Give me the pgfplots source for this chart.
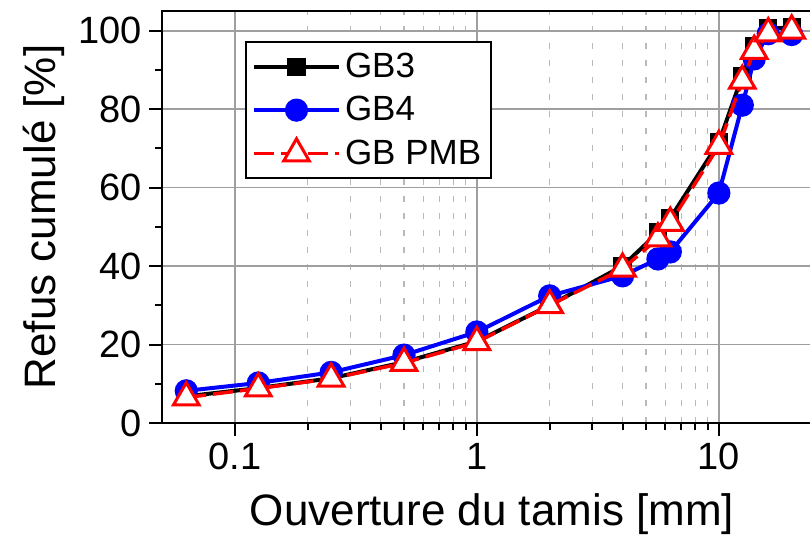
\documentclass[border=0pt]{standalone}
\usepackage{pgfplots}
\pgfplotsset{compat=1.18}
\usepackage{pgfplotstable}
\usepackage{fontspec}
\setmainfont{Liberation Sans}

% Cumulative grading curves (sieve opening in mm, cumulative % )
\pgfplotstableread{
x      gb3    gb4    pmb
0.063  6.8    8.2    6.5
0.125  8.9    10.2   8.8
0.25   11.4   12.9   11.3
0.5    15.5   17.3   15.3
1      20.8   23.2   20.6
2      30.0   32.4   30.0
4      40.0   37.5   39.3
5.6    48.5   41.8   47.0
6.3    52.2   43.6   51.0
10     71.5   58.6   70.6
12.5   88.5   81.0   87.2
14     96.0   92.8   94.8
16     100.5  99.2   99.3
20     100.8  99.0   100.0
}\grading

\begin{document}
\begin{tikzpicture}
\useasboundingbox (-81pt,-58.5pt) rectangle (324pt,211.5pt);
\begin{axis}[
  at={(0,0)}, anchor=south west,
  scale only axis, width=330pt, height=206pt,
  xmode=log, xmin=0.05, xmax=26.68, ymin=0, ymax=105,
  xtick={0.1,1,10}, xticklabels={0.1,1,10},
  ytick={0,20,40,60,80,100}, minor y tick num=1,
  tick align=outside, tick pos=left,
  major tick length=6.5pt, minor tick length=3.5pt,
  every tick/.style={black, line width=1pt},
  axis line style={line width=1.2pt},
  xmajorgrids, xminorgrids, ymajorgrids,
  major grid style={gray!75, line width=0.9pt, solid},
  minor grid style={gray!55, line width=0.6pt, dash pattern=on 3pt off 5.5pt},
  /pgf/number format/assume math mode=true,
  tick label style={font=\fontsize{19}{22}\selectfont},
  label style={font=\fontsize{22}{26}\selectfont},
  xlabel style={yshift=-5pt},
  xlabel={Ouverture du tamis [mm]},
  ylabel={Refus cumulé [\%]},
  clip mode=individual,
  legend cell align=left,
  legend style={at={(0.1258,0.9272)}, anchor=north west, draw=black,
    line width=1pt, font=\fontsize{17.5}{20}\selectfont,
    inner xsep=3pt, inner ysep=3.5pt, row sep=4pt},
  legend image code/.code={
    \draw[mark repeat=2, mark phase=2] plot coordinates {(0pt,0pt) (21.25pt,0pt) (42.5pt,0pt)};
  },
]
\addplot[black, line width=2pt, mark=square*, mark size=3.6pt]
  table[x=x, y=gb3]{\grading};
\addlegendentry{GB3}
\addplot[blue, line width=2pt, mark=*, mark size=4.8pt]
  table[x=x, y=gb4]{\grading};
\addlegendentry{GB4}
\addplot[red, line width=1.75pt, dash pattern=on 10pt off 3.5pt,
  mark=triangle*, mark size=7.4pt,
  mark options={solid, fill=white, line width=1.5pt}]
  table[x=x, y=pmb]{\grading};
\addlegendentry{GB PMB}
\end{axis}
\end{tikzpicture}
\end{document}
